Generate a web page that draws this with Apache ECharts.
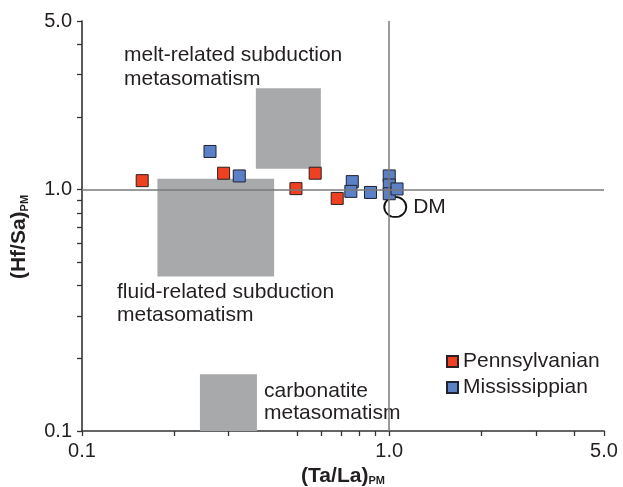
<!DOCTYPE html>
<html>
<head>
<meta charset="utf-8">
<script src="https://cdn.jsdelivr.net/npm/echarts@6/dist/echarts.min.js"></script>
<style>
  html, body { margin: 0; padding: 0; background: #fff; }
  #chart { width: 623px; height: 487px; }
</style>
</head>
<body>
<div id="chart"></div>
<script>
// Pennsylvanian samples [Ta/La, Hf/Sa]
var pennsylvanian = [
  [0.157, 1.09], [0.289, 1.17], [0.497, 1.01], [0.574, 1.17], [0.677, 0.92]
];
// Mississippian samples [Ta/La, Hf/Sa]
var mississippian = [
  [0.261, 1.44], [0.325, 1.14], [0.758, 1.08], [0.750, 0.984], [0.869, 0.974],
  [1.0, 1.14], [1.0, 1.046], [1.0, 0.962], [1.06, 1.007]
];
var dm = [[1.046, 0.848]];

// shaded fields [x0, y0, x1, y1]
var meltField = [0.368, 1.22, 0.599, 2.63];
var fluidField = [0.176, 0.437, 0.422, 1.11];
var carbField = [0.242, 0.1, 0.371, 0.172];

var xTicks = [0.1, 0.2, 0.3, 0.5, 0.6, 0.7, 0.8, 0.9, 1, 2, 3, 4, 5];
var yTicks = [0.1, 0.2, 0.3, 0.4, 0.5, 0.6, 0.7, 0.8, 0.9, 1, 2, 3, 4, 5];
var xLabels = [0.1, 1, 5];
var yLabels = [0.1, 1, 5];

var FONT = '"Liberation Sans", Arial, sans-serif';
var TXT = '#231f20';

function field(f) {
  return [{ coord: [f[0], f[1]] }, { coord: [f[2], f[3]] }];
}

var chart = echarts.init(document.getElementById('chart'));

var richName = {
  a: { fontFamily: FONT, fontSize: 21, fontWeight: 'bold', color: TXT },
  b: { fontFamily: FONT, fontSize: 11, fontWeight: 'bold', color: TXT, verticalAlign: 'bottom', padding: [10, 0, 0, 0] }
};

var axisCommon = {
  type: 'log',
  logBase: 10,
  min: 0.1,
  max: 5,
  splitLine: { show: false },
  axisLine: { lineStyle: { color: '#333', width: 1.6 } },
  nameLocation: 'middle'
};

var option = {
  animation: false,
  textStyle: { fontFamily: FONT },
  grid: { left: 82, right: 19, top: 21, bottom: 56, outerBoundsMode: 'none' },
  xAxis: Object.assign({}, axisCommon, {
    name: '{a|(Ta/La)}{b|PM}',
    nameGap: 30,
    nameTextStyle: { rich: richName },
    axisTick: { customValues: xTicks, length: 5, lineStyle: { color: '#333', width: 1.3 } },
    axisLabel: {
      customValues: xLabels, fontSize: 20, color: TXT, margin: 10,
      formatter: function (v) { return Number(v).toFixed(1); }
    }
  }),
  yAxis: Object.assign({}, axisCommon, {
    name: '{a|(Hf/Sa)}{b|PM}',
    nameGap: 52,
    nameRotate: 90,
    nameTextStyle: { rich: richName, padding: [0, 22, 0, 0] },
    axisTick: { customValues: yTicks, length: 5, lineStyle: { color: '#333', width: 1.3 } },
    axisLabel: {
      customValues: yLabels, fontSize: 20, color: TXT, margin: 10,
      formatter: function (v) { return Number(v).toFixed(1); }
    }
  }),
  legend: {
    data: ['Pennsylvanian', 'Mississippian'],
    orient: 'vertical',
    left: 441,
    top: 346,
    itemWidth: 11,
    itemHeight: 11,
    itemGap: 5,
    textStyle: { fontSize: 21, color: TXT, fontFamily: FONT }
  },
  graphic: [
    { type: 'text', left: 124, top: 43, style: { text: 'melt-related subduction\nmetasomatism', font: '21px ' + FONT, fill: TXT, lineHeight: 24 } },
    { type: 'text', left: 117, top: 281, style: { text: 'fluid-related subduction\nmetasomatism', font: '21px ' + FONT, fill: TXT, lineHeight: 23 } },
    { type: 'text', left: 264, top: 380, style: { text: 'carbonatite\nmetasomatism', font: '21px ' + FONT, fill: TXT, lineHeight: 22 } }
  ],
  series: [
    {
      name: 'fields',
      type: 'scatter',
      data: [],
      z: 1,
      silent: true,
      markArea: {
        silent: true,
        itemStyle: { color: '#a8a9ab' },
        data: [field(meltField), field(fluidField), field(carbField)]
      }
    },
    {
      name: 'ref',
      type: 'scatter',
      data: [],
      z: 2,
      silent: true,
      markLine: {
        silent: true,
        symbol: 'none',
        label: { show: false },
        lineStyle: { color: '#7a7a7a', width: 1.5, type: 'solid' },
        data: [{ xAxis: 1 }, { yAxis: 1 }]
      }
    },
    {
      name: 'DM',
      type: 'scatter',
      data: dm,
      z: 3,
      symbol: 'circle',
      symbolSize: [22, 20],
      itemStyle: { color: '#fff', borderColor: '#111', borderWidth: 1.8, opacity: 1 },
      label: { show: true, position: 'right', distance: 6, formatter: 'DM', fontSize: 21, color: TXT }
    },
    {
      name: 'Pennsylvanian',
      type: 'scatter',
      data: pennsylvanian,
      z: 4,
      symbol: 'rect',
      symbolSize: 12,
      itemStyle: { color: '#ee4122', borderColor: '#2a2020', borderWidth: 1, opacity: 1 }
    },
    {
      name: 'Mississippian',
      type: 'scatter',
      data: mississippian,
      z: 4,
      symbol: 'rect',
      symbolSize: 12,
      itemStyle: { color: '#5b80c6', borderColor: '#1f2230', borderWidth: 1, opacity: 1 }
    }
  ]
};

chart.setOption(option);
</script>
</body>
</html>
